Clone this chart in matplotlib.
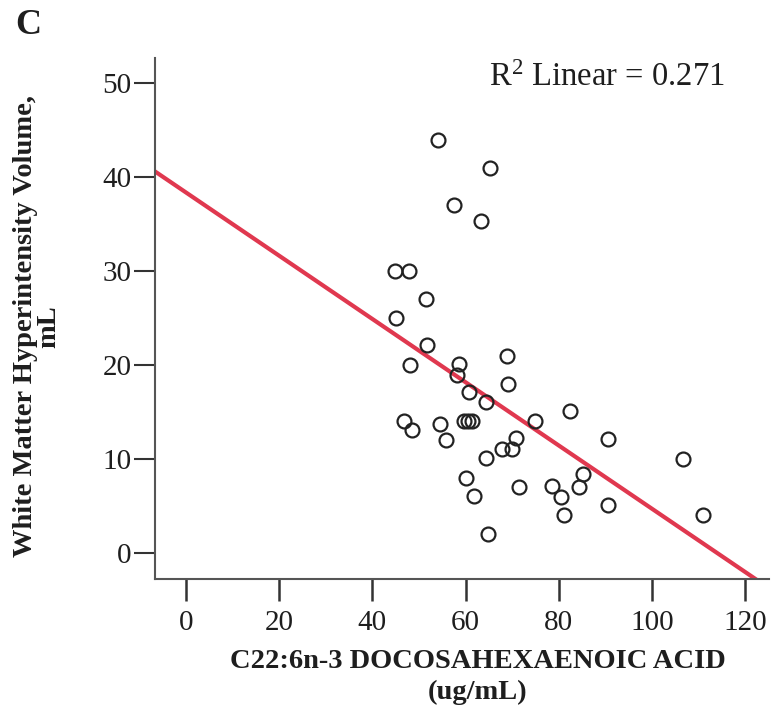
import matplotlib
matplotlib.use('Agg')
import matplotlib.pyplot as plt
import numpy as np

# values
dha = [54.0, 65.2, 57.6, 63.3, 44.8, 47.8, 51.5, 45.1, 51.7, 48.1,
       58.5, 58.1, 68.8, 69.2, 60.8, 64.4, 46.9, 48.6, 54.6, 55.8,
       59.7, 60.5, 61.3, 74.8, 82.5, 67.9, 70.0, 70.9, 90.6, 64.4,
       60.1, 61.9, 71.5, 64.9, 78.6, 80.5, 81.1, 85.2, 84.3, 106.6,
       90.6, 111.0]
wmh = [44.0, 41.0, 37.0, 35.3, 30.0, 30.0, 27.0, 25.0, 22.1, 20.0,
       20.1, 18.9, 21.0, 18.0, 17.1, 16.1, 14.1, 13.1, 13.7, 12.0,
       14.1, 14.1, 14.1, 14.1, 15.1, 11.1, 11.1, 12.2, 12.1, 10.1,
       8.0, 6.1, 7.0, 2.0, 7.1, 6.0, 4.0, 8.4, 7.0, 10.0,
       5.1, 4.0]

fit_intercept = 38.4
fit_slope = -0.337
r2_text = r'R$^2$ Linear = 0.271'

x_ticks = [0, 20, 40, 60, 80, 100, 120]
y_ticks = [0, 10, 20, 30, 40, 50]

plt.rcParams['font.family'] = ['Liberation Serif', 'DejaVu Serif']
plt.rcParams['mathtext.fontset'] = 'custom'
plt.rcParams['mathtext.rm'] = 'Liberation Serif'
plt.rcParams['mathtext.it'] = 'Liberation Serif'

txt = '#1e1e1e'
axcol = '#555555'

fig = plt.figure(figsize=(7.71, 7.18), dpi=100)
ax = fig.add_axes([0.201, 0.1936, 0.796, 0.7256])

ax.set_xlim(-6.6, 125)
ax.set_ylim(-2.77, 52.7)

xs = np.array([-6.6, 125])
ax.plot(xs, fit_intercept + fit_slope * xs, color='#e0384f', lw=3, zorder=2)

ax.plot(dha, wmh, 'o', ms=10, mfc='none', mec='#222222', mew=1.6, zorder=3)

for s in ['top', 'right']:
    ax.spines[s].set_visible(False)
for s in ['left', 'bottom']:
    ax.spines[s].set_color(axcol)
    ax.spines[s].set_linewidth(1.5)

ax.set_xticks(x_ticks)
ax.set_yticks(y_ticks)
ax.tick_params(axis='x', length=16, width=1.8, color='#333333', labelsize=21,
               labelcolor=txt, pad=6)
ax.tick_params(axis='y', length=15, width=1.5, color='#333333', labelsize=21,
               labelcolor=txt, pad=2)

ax.set_xlabel('C22:6n-3 DOCOSAHEXAENOIC ACID\n(ug/mL)', fontsize=20.5,
              fontweight='bold', color=txt, linespacing=1.3)
ax.xaxis.set_label_coords(0.526, -0.134)
ax.set_ylabel('White Matter Hyperintensity Volume,\nmL', fontsize=20.5,
              fontweight='bold', color=txt, linespacing=0.92)
ax.yaxis.set_label_coords(-0.152, 0.485)

ax.text(0.736, 0.962, r2_text, transform=ax.transAxes, ha='center', va='center',
        fontsize=23.5, color=txt)

fig.text(0.02, 0.965, 'C', fontsize=26, fontweight='bold', color=txt,
         ha='left', va='center')

fig.savefig('out.png', dpi=100, facecolor='white')
